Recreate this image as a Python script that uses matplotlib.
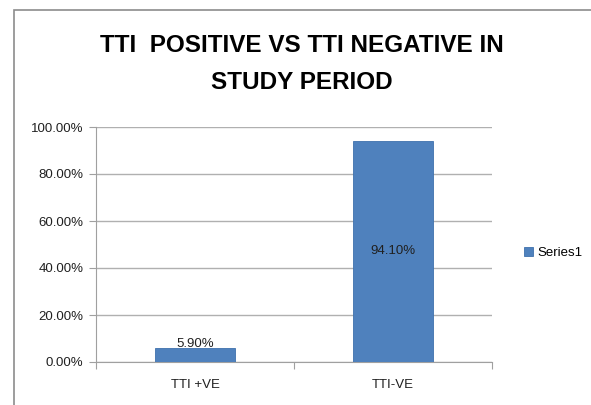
import matplotlib
matplotlib.use("Agg")
import matplotlib.pyplot as plt
from matplotlib.patches import Rectangle
from matplotlib.ticker import FuncFormatter

categories = ["TTI +VE", "TTI-VE"]
values = [5.90, 94.10]
series_name = "Series1"
title = "TTI  POSITIVE VS TTI NEGATIVE IN\nSTUDY PERIOD"

plt.rcParams['font.family'] = ['Liberation Sans', 'DejaVu Sans']

W, H = 591, 405
fig = plt.figure(figsize=(W/100, H/100), dpi=100)
fig.patch.set_facecolor("white")

# chart border
fig.patches.append(Rectangle((14/W, -0.1), 1.2, (H-10)/H + 0.1, transform=fig.transFigure,
                             fill=False, edgecolor="#8c8c8c", linewidth=1.2))

ax = fig.add_axes([96/W, (H-362)/H, (492-96)/W, (362-127)/H])
color = "#4f81bd"
x = list(range(len(categories)))
bars = ax.bar(x, values, width=0.4, color=color, edgecolor="#3f71ad", linewidth=0.6, zorder=3, label=series_name)
ax.set_xlim(-0.5, 1.5)
ax.set_ylim(0, 100)
ax.set_yticks([0, 20, 40, 60, 80, 100])
ax.yaxis.set_major_formatter(FuncFormatter(lambda v, p: f"{v:.2f}%"))
ax.grid(axis="y", color="#b0b0b0", linewidth=1.0, zorder=0)
ax.set_xticks([-0.5, 0.5, 1.5])
ax.set_xticklabels([])
ax.set_xticks(x, minor=True)
ax.set_xticklabels(categories, minor=True)
ax.tick_params(axis="x", which="minor", length=0, pad=12, labelsize=9.5, labelcolor="#202020")
ax.tick_params(axis="x", which="major", length=5, color="#a0a0a0")
ax.tick_params(axis="y", length=5, color="#a0a0a0", labelsize=9.5, pad=4, labelcolor="#202020")
for s in ["top", "right"]:
    ax.spines[s].set_visible(False)
for s in ["left", "bottom"]:
    ax.spines[s].set_color("#a0a0a0")

ax.text(x[0], values[0] - 0.8, f"{values[0]:.2f}%", ha="center", va="bottom", fontsize=9.5, color="#202020", zorder=4)
ax.text(x[1], values[1] / 2, f"{values[1]:.2f}%", ha="center", va="center", fontsize=9.5, color="#202020", zorder=4)

fig.text(302/W, 1 - 64/H, title, ha="center", va="center", fontsize=17.5, fontweight="bold",
         linespacing=1.75, color="black")

leg = fig.legend(handles=[bars], labels=[series_name], loc="center left",
                 bbox_to_anchor=(512/W, 1 - 253/H), frameon=False, fontsize=9.5,
                 handlelength=0.7, handleheight=0.7, handletextpad=0.3)

fig.savefig("out.png", dpi=100)
